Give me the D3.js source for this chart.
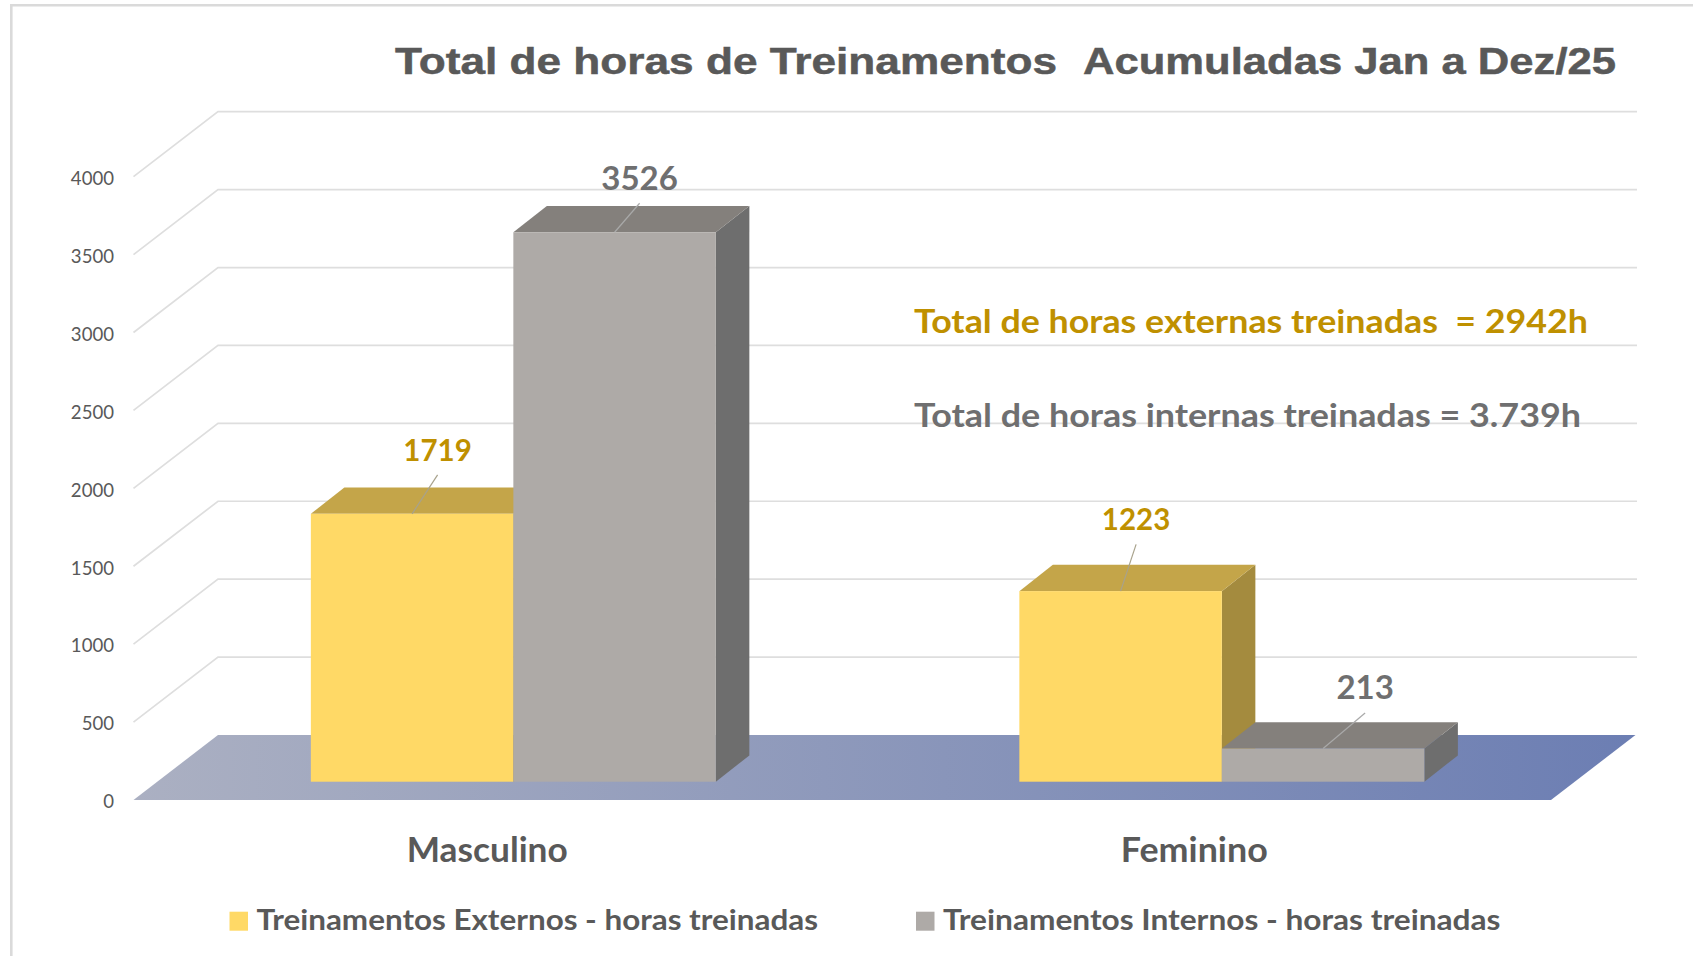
<!DOCTYPE html>
<html><head><meta charset="utf-8">
<script src="https://cdn.jsdelivr.net/npm/d3@7"></script>
<style>html,body{margin:0;background:#fff}svg{display:block}text{font-family:Lato,Carlito,sans-serif}</style>
</head><body><svg id="c" width="1693" height="956"></svg>
<script>
const categories = ["Masculino", "Feminino"];
const seriesNames = ["Treinamentos Externos - horas treinadas", "Treinamentos Internos - horas treinadas"];
const externos = [1719, 1223];
const internos = [3526, 213];
const yTicks = [0, 500, 1000, 1500, 2000, 2500, 3000, 3500, 4000];
const titleParts = ["Total de horas de Treinamentos", "Acumuladas Jan a Dez/25"];
const notes = ["Total de horas externas treinadas  = 2942h", "Total de horas internas treinadas = 3.739h"];

const svg = d3.select("#c");
const defs = svg.append("defs");
const grad = defs.append("linearGradient").attr("id","floor").attr("x1","0").attr("x2","1").attr("y1","0").attr("y2","0");
grad.append("stop").attr("offset","0").attr("stop-color","#abb0c2");
grad.append("stop").attr("offset","1").attr("stop-color","#6c7eb3");

const fy = d3.scaleLinear().domain([0,4000]).range([800,176.7]);       // front wall plane
const wall = {dx:84.5, dy:-65};                                       // depth of the floor
const by = d3.scaleLinear().domain([0,4000]).range([781.7,158.4]);     // bar front plane
const barDepth = {dx:33.5, dy:-26.3};
const xCat = d3.scaleBand().domain(categories).range([133,1550]);
const x0 = 133.5, x1 = 1551, xRight = 1637;

// frame
svg.append("path").attr("d","M11.3,956V5.3H1693").attr("fill","none").attr("stroke","#dadada").attr("stroke-width",2.6);

// floor
svg.append("path").attr("fill","url(#floor)")
  .attr("d",`M${x0},${fy(0)}L${x0+wall.dx},${fy(0)+wall.dy}L${x1+wall.dx},${fy(0)+wall.dy}L${x1},${fy(0)}Z`);

// gridlines
const gl = svg.append("g").attr("fill","none").attr("stroke","#dedede").attr("stroke-width",1.7);
gl.selectAll("path").data(yTicks.slice(1)).join("path")
  .attr("d",d=>`M${x0},${fy(d)}L${x0+wall.dx},${fy(d)+wall.dy}H${xRight}`);

// y axis
const yAxis = d3.axisLeft(fy).tickValues(yTicks).tickSize(0).tickPadding(0).tickFormat(d3.format("d"));
const ga = svg.append("g").attr("transform","translate(114,1.8)").call(yAxis);
ga.select(".domain").remove();
ga.selectAll("text").attr("font-size",18.6).attr("fill","#595959").attr("font-family","Lato");

// bars
const inner = d3.scaleBand().domain(seriesNames).range([0,405]);
const barShift = 25.6;
const styles = [
  {front:"#ffd966", top:"#c4a549", side:"#a48b3e", label:"#bf9000"},
  {front:"#aeaaa7", top:"#84807c", side:"#6e6e6e", label:"#6f6f70"}];
const bars=[];
categories.forEach((c,i)=>{
  [externos[i],internos[i]].forEach((v,s)=>bars.push({c,s,v,name:seriesNames[s]}));
});
const gb = svg.append("g");
const bx = d=>xCat(d.c)+xCat.bandwidth()/2+barShift-202+inner(d.name);
const bw = inner.bandwidth();
bars.forEach(d=>{
  const x=bx(d), y=by(d.v), b=by(0), r=x+bw;
  const st=styles[d.s];
  gb.append("path").attr("fill",st.side).attr("d",`M${r},${y}l${barDepth.dx},${barDepth.dy}V${b+barDepth.dy}L${r},${b}Z`);
  gb.append("path").attr("fill",st.top).attr("d",`M${x},${y}l${barDepth.dx},${barDepth.dy}H${r+barDepth.dx}L${r},${y}Z`);
  gb.append("rect").attr("x",x).attr("y",y).attr("width",bw).attr("height",b-y).attr("fill",st.front);
});

// data labels with leader lines
const labelOff = [{dx:25.5,dy:-52.5,line:-39},{dx:25,dy:-42.5,line:-29},{dx:15.5,dy:-60.7,line:-46.7},{dx:42,dy:-49.5,line:-35.5}];
const gl2 = svg.append("g");
bars.forEach((d,k)=>{
  const x=bx(d)+bw/2, y=by(d.v), o=labelOff[k];
  const st=styles[d.s];
  gl2.append("line").attr("x1",x).attr("y1",y).attr("x2",x+o.dx).attr("y2",y+o.line)
    .attr("stroke",d.s==0?"#a8a28c":"#a9a9a9").attr("stroke-width",1.2);
  gl2.append("text").attr("x",x+o.dx).attr("y",y+o.dy).attr("text-anchor","middle")
    .attr("font-size",d.s==0?29.5:33).attr("font-weight",700).attr("fill",st.label).text(d.v);
});

// category labels
svg.append("g").selectAll("text").data(categories).join("text")
  .attr("x",(d,i)=>xCat(d)+xCat.bandwidth()/2+[0,-1.5][i]).attr("y",861.7).attr("text-anchor","middle")
  .attr("font-size",34).attr("font-weight",700).attr("fill","#595959")
  .attr("textLength",(d,i)=>[161,147][i]).attr("lengthAdjust","spacingAndGlyphs").text(d=>d);

// title
svg.append("g").selectAll("text").data(titleParts).join("text")
  .attr("x",(d,i)=>[395,1083][i]).attr("y",74).attr("font-size",37.5).attr("font-weight",700)
  .attr("style","font-family:'Liberation Sans',Arial,sans-serif")
  .attr("fill","#595959").attr("stroke","#595959").attr("stroke-width",0.5)
  .attr("textLength",(d,i)=>[662,533][i]).attr("lengthAdjust","spacingAndGlyphs").text(d=>d);

// notes
svg.append("g").selectAll("text").data(notes).join("text")
  .attr("x",914).attr("y",(d,i)=>[333.2,426.7][i]).attr("font-size",33).attr("font-weight",700)
  .attr("style","white-space:pre").attr("textLength",(d,i)=>[674,667][i]).attr("lengthAdjust","spacingAndGlyphs")
  .attr("fill",(d,i)=>styles[i].label).text(d=>d);

// legend
const lg = svg.append("g");
const legendX=[229.5,916], legendTextX=[256.5,943], legendW=[561.5,557.5];
seriesNames.forEach((n,i)=>{
  lg.append("rect").attr("x",legendX[i]).attr("y",911.7).attr("width",18.5).attr("height",19).attr("fill",styles[i].front);
  lg.append("text").attr("x",legendTextX[i]).attr("y",930).attr("font-size",29).attr("font-weight",700)
    .attr("textLength",legendW[i]).attr("lengthAdjust","spacingAndGlyphs").attr("fill","#595959").text(n);
});
</script></body></html>
